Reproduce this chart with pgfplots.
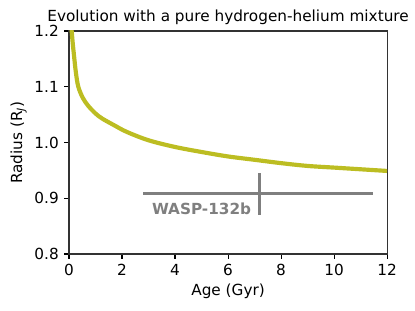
\documentclass[border=0pt]{standalone}
\usepackage{fontspec}
\setmainfont{DejaVu Sans}
\usepackage{pgfplots}
\pgfplotsset{compat=1.18}
\definecolor{olive}{HTML}{BCBD22}
\definecolor{tgray}{HTML}{7F7F7F}
\begin{document}
\fontsize{11pt}{13pt}\selectfont
\begin{tikzpicture}
\path[use as bounding box] (-49.7pt,-40.3pt) rectangle (249.1pt,182.9pt);
\begin{axis}[
  at={(0pt,0pt)}, anchor=south west,
  scale only axis, width=229pt, height=160.6pt,
  xmin=0, xmax=12, ymin=0.8, ymax=1.2,
  xtick={0,2,...,12}, ytick={0.8,0.9,1.0,1.1,1.2},
  yticklabel style={/pgf/number format/.cd, fixed, fixed zerofill, precision=1},
  /pgf/number format/assume math mode=true,
  tick align=outside, tick pos=left,
  major tick length=3.5pt,
  every tick/.style={black, line width=0.8pt},
  axis line style={line width=0.8pt, black!80},
  ticklabel style={font=\fontsize{11pt}{13pt}\selectfont},
  title={Evolution with a pure hydrogen-helium mixture},
  title style={font=\fontsize{11pt}{13pt}\selectfont, yshift=-5pt},
  xlabel={Age (Gyr)},
  ylabel={Radius (R\textsubscript{\textit{J}})},
  xlabel style={yshift=2pt},
  ylabel style={yshift=-2pt},
  label style={font=\fontsize{11pt}{13pt}\selectfont},
  clip=true,
]
\addplot[color=olive, line width=3pt, smooth, tension=0.55] coordinates {
(0.08,1.21) (0.1,1.2) (0.14,1.178) (0.19,1.155) (0.26,1.125) (0.35,1.1)
(0.52,1.08) (0.72,1.066) (1.0,1.052) (1.25,1.043) (1.7,1.031) (2.18,1.019)
(3,1.004) (4,0.992) (5,0.983) (6,0.975) (7,0.969) (8,0.963) (9,0.958)
(10,0.955) (11,0.952) (12,0.949)
};
\addplot[draw=none, mark=none, color=tgray,
  error bars/.cd, x dir=both, x explicit, y dir=both, y explicit,
  error mark=none,
  error bar style={line width=2.5pt, color=tgray}]
  coordinates { (7.18,0.909) += (4.30,0.037) -= (4.38,0.039) };
\node[anchor=east, text=tgray, font=\bfseries\fontsize{11pt}{13pt}\selectfont, inner sep=0pt]
  at (axis cs:6.88,0.882) {WASP-132b};
\end{axis}
\end{tikzpicture}
\end{document}
